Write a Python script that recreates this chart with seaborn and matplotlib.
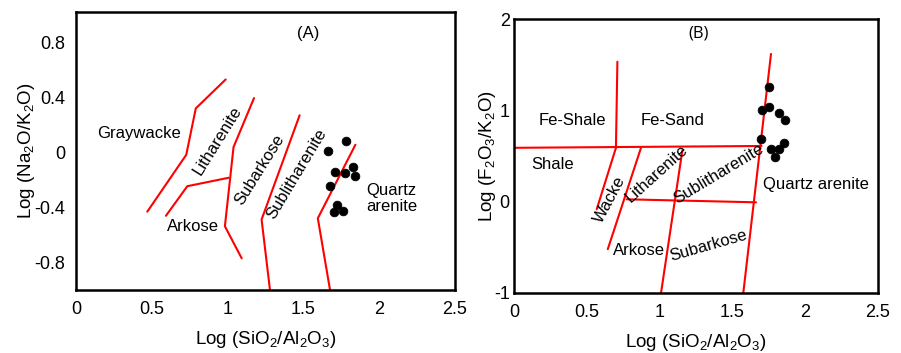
import numpy as np
import pandas as pd
import matplotlib
matplotlib.use("Agg")
import matplotlib.pyplot as plt
import seaborn as sns

# ---- data: panel A (Pettijohn-type classification) ----
a_lines = [
    ([0.47, 0.727, 0.79, 0.987], [-0.43, -0.017, 0.32, 0.53]),
    ([0.593, 0.734, 1.006], [-0.46, -0.245, -0.184]),
    ([1.174, 1.039, 0.982, 1.093], [0.395, 0.039, -0.536, -0.769]),
    ([1.475, 1.224, 1.279], [0.27, -0.487, -0.995]),
    ([1.843, 1.595, 1.675], [0.056, -0.478, -0.995]),
]
a_x = [1.665, 1.782, 1.710, 1.776, 1.824, 1.837, 1.673, 1.721, 1.701, 1.761]
a_y = [0.012, 0.082, -0.140, -0.149, -0.108, -0.169, -0.242, -0.380, -0.431, -0.422]

# ---- data: panel B (Herron classification) ----
b_lines = [
    ([0.0, 1.70], [0.59, 0.61]),
    ([0.71, 0.70], [1.533, 0.59]),
    ([0.70, 0.568], [0.59, -0.083]),
    ([0.872, 0.644], [0.59, -0.52]),
    ([1.156, 1.01], [0.559, -0.995]),
    ([0.774, 1.662], [0.026, -0.007]),
    ([1.765, 1.575], [1.618, -0.995]),
]
b_x = [1.753, 1.751, 1.700, 1.822, 1.863, 1.695, 1.765, 1.822, 1.856, 1.793]
b_y = [1.258, 1.040, 0.999, 0.966, 0.895, 0.690, 0.579, 0.579, 0.643, 0.490]

sns.set_style("white")
plt.rcParams["font.family"] = ["Liberation Sans", "DejaVu Sans"]
plt.rcParams["mathtext.default"] = "regular"
for k in ["text.color", "axes.labelcolor", "xtick.color", "ytick.color"]:
    plt.rcParams[k] = "black"

fig = plt.figure(figsize=(9.01, 3.53), dpi=100)
axA = fig.add_axes([0.0844, 0.178, 0.4206, 0.788])
axB = fig.add_axes([0.5705, 0.170, 0.404, 0.776])

lw = 1.5
fs = 12


def style_axes(ax, ypad):
    for s in ax.spines.values():
        s.set_linewidth(1.8)
        s.set_color("black")
    ax.tick_params(length=0, labelsize=13)
    ax.tick_params(axis="x", pad=8)
    ax.tick_params(axis="y", pad=ypad)


# Panel A
for xs, ys in a_lines:
    sns.lineplot(x=xs, y=ys, sort=False, color="red", linewidth=lw, ax=axA)
sns.scatterplot(x=a_x, y=a_y, color="black", s=40, edgecolor="black", ax=axA, zorder=3)
axA.set_xlim(0, 2.5)
axA.set_ylim(-1.0, 1.02)
axA.set_xticks([0, 0.5, 1, 1.5, 2, 2.5])
axA.set_xticklabels(["0", "0.5", "1", "1.5", "2", "2.5"])
axA.set_yticks([-0.8, -0.4, 0, 0.4, 0.8])
axA.set_yticklabels(["-0.8", "-0.4", "0", "0.4", "0.8"])
axA.set_xlabel("Log (SiO$_2$/Al$_2$O$_3$)", fontsize=13.5, labelpad=8)
axA.set_ylabel("Log (Na$_2$O/K$_2$O)", fontsize=13.5, labelpad=-2)
style_axes(axA, 8)

axA.text(1.53, 0.865, "(A)", fontsize=fs, ha="center", va="center")
axA.text(0.416, 0.136, "Graywacke", fontsize=fs, ha="center", va="center")
axA.text(0.935, 0.087, "Litharenite", fontsize=fs, ha="center", va="center", rotation=58)
axA.text(1.21, -0.124, "Subarkose", fontsize=fs, ha="center", va="center", rotation=58)
axA.text(1.457, -0.153, "Sublitharenite", fontsize=fs, ha="center", va="center", rotation=59)
axA.text(1.915, -0.335, "Quartz\narenite", fontsize=fs, ha="left", va="center", linespacing=1.1)
axA.text(0.771, -0.536, "Arkose", fontsize=fs, ha="center", va="center")

# Panel B
for xs, ys in b_lines:
    sns.lineplot(x=xs, y=ys, sort=False, color="red", linewidth=lw, ax=axB)
sns.scatterplot(x=b_x, y=b_y, color="black", s=40, edgecolor="black", ax=axB, zorder=3)
axB.set_xlim(0, 2.5)
axB.set_ylim(-1, 2)
axB.set_xticks([0, 0.5, 1, 1.5, 2, 2.5])
axB.set_xticklabels(["0", "0.5", "1", "1.5", "2", "2.5"])
axB.set_yticks([-1, 0, 1, 2])
axB.set_yticklabels(["-1", "0", "1", "2"])
axB.set_xlabel("Log (SiO$_2$/Al$_2$O$_3$)", fontsize=13.5, labelpad=8)
axB.set_ylabel("Log (F$_2$O$_3$/K$_2$O)", fontsize=13.5, labelpad=-3)
style_axes(axB, 3)

axB.text(1.266, 1.844, "(B)", fontsize=fs, ha="center", va="center",
         family=["Open Sans", "DejaVu Sans"])
axB.text(0.401, 0.887, "Fe-Shale", fontsize=fs, ha="center", va="center")
axB.text(1.09, 0.887, "Fe-Sand", fontsize=fs, ha="center", va="center")
axB.text(0.266, 0.402, "Shale", fontsize=fs, ha="center", va="center")
axB.text(0.659, 0.026, "Wacke", fontsize=fs, ha="center", va="center", rotation=62)
axB.text(0.98, 0.31, "Litharenite", fontsize=fs, ha="center", va="center", rotation=42)
axB.text(1.403, 0.31, "Sublitharenite", fontsize=fs, ha="center", va="center", rotation=31)
axB.text(2.074, 0.19, "Quartz arenite", fontsize=fs, ha="center", va="center")
axB.text(0.859, -0.537, "Arkose", fontsize=fs, ha="center", va="center")
axB.text(1.335, -0.485, "Subarkose", fontsize=fs, ha="center", va="center", rotation=16)

fig.savefig("out.png", dpi=100)
